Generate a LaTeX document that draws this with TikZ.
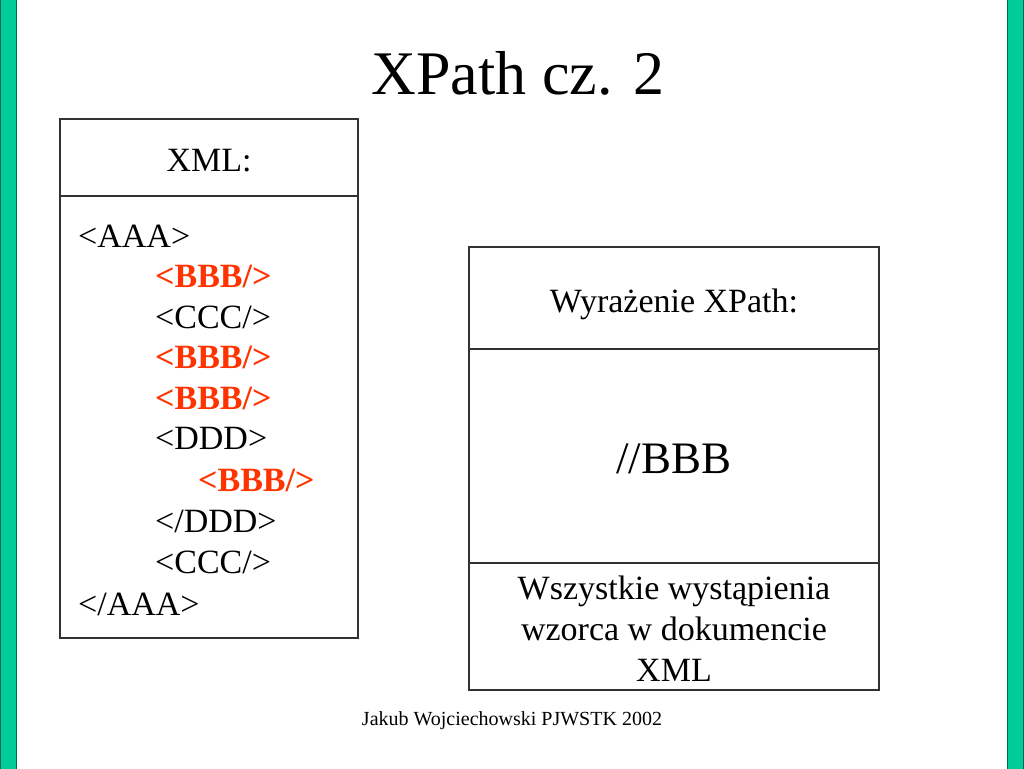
\documentclass[tikz,border=0pt]{standalone}
\usepackage{fontspec}
\setmainfont{Liberation Serif}
\usetikzlibrary{positioning}
\definecolor{barfill}{RGB}{0,204,153}
\definecolor{baredge}{RGB}{0,105,80}
\definecolor{tagred}{RGB}{255,51,0}
\definecolor{boxline}{RGB}{50,50,50}
\newcommand{\bodyfont}{\fontsize{34}{41}\selectfont}

\begin{document}
\begin{tikzpicture}[x=1pt,y=-1pt,
  tag/.style={anchor=base west, inner sep=0pt, font=\bodyfont},
  hit/.style={tag, text=tagred, font=\bodyfont\bfseries},
  head/.style={anchor=base, inner sep=0pt, font=\bodyfont},
  frame/.style={draw=boxline, line width=1.2pt}]
\useasboundingbox (0,0) rectangle (1024,768);
\fill[white] (0,0) rectangle (1024,768);
% side bars
\draw[fill=barfill, draw=baredge, line width=1pt] (0.5,-1) rectangle (16,769);
\draw[fill=barfill, draw=baredge, line width=1pt] (1007,-1) rectangle (1023.5,769);
% title
\node [anchor=base, inner sep=0pt, font=\fontsize{62}{70}\selectfont] (title) at (518,94) {XPath cz. 2};
% left box
\draw [frame] (60,119) rectangle (358,638);
\draw [frame] (60,196) -- (358,196);
\node [head] (xmlhead) at (209,171) {XML:};
\node [tag] (aaa) at (78,247) {<AAA>};
\node [hit] (bbb1) at (155,287) {<BBB/>};
\node [tag] (ccc1) at (155,328) {<CCC/>};
\node [hit] (bbb2) at (155,368) {<BBB/>};
\node [hit] (bbb3) at (155,409) {<BBB/>};
\node [tag] (ddd) at (155,449) {<DDD>};
\node [hit] (bbb4) at (198,491) {<BBB/>};
\node [tag] (dddend) at (155,532) {</DDD>};
\node [tag] (ccc2) at (155,573) {<CCC/>};
\node [tag] (aaaend) at (78,615) {</AAA>};
% right box
\draw [frame] (469,247) rectangle (879,690);
\draw [frame] (469,349) -- (879,349);
\draw [frame] (469,563) -- (879,563);
\node [head] (exprhead) at (674,312) {Wyrażenie XPath:};
\node [head, font=\fontsize{45}{50}\selectfont] (expr) at (674,473) {//BBB};
\node [head, align=center] (desc) at (674,681) {Wszystkie wystąpienia\\wzorca w dokumencie\\XML};
% footer
\node [anchor=base, inner sep=0pt, font=\fontsize{20}{24}\selectfont] (footer) at (512,725) {Jakub Wojciechowski PJWSTK 2002};
\end{tikzpicture}
\end{document}
